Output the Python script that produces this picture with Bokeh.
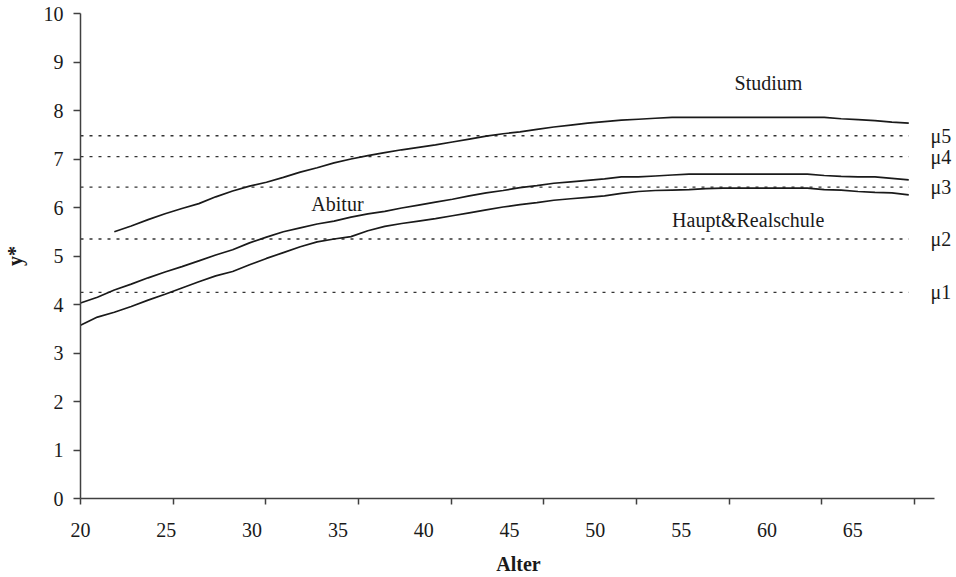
from bokeh.plotting import figure
from bokeh.models import Range1d, LinearAxis, FixedTicker
from bokeh.core.properties import value
from bokeh.embed import file_html
from bokeh.resources import INLINE

# ---------------- data ----------------
AGES = list(range(20, 70))
HAUPT = [3.57, 3.74, 3.84, 3.96, 4.09, 4.21, 4.34, 4.47, 4.59, 4.68,
         4.82, 4.95, 5.07, 5.19, 5.29, 5.35, 5.40, 5.52, 5.61, 5.67,
         5.72, 5.77, 5.83, 5.89, 5.95, 6.01, 6.06, 6.10, 6.15, 6.18,
         6.21, 6.24, 6.29, 6.33, 6.35, 6.36, 6.37, 6.39, 6.40, 6.40,
         6.40, 6.40, 6.40, 6.40, 6.37, 6.36, 6.33, 6.31, 6.30, 6.26]
ABITUR = [4.03, 4.15, 4.30, 4.42, 4.55, 4.67, 4.78, 4.90, 5.02, 5.13,
          5.27, 5.39, 5.50, 5.58, 5.66, 5.72, 5.80, 5.87, 5.92, 5.99,
          6.05, 6.11, 6.17, 6.24, 6.30, 6.35, 6.41, 6.45, 6.50, 6.53,
          6.56, 6.59, 6.63, 6.63, 6.65, 6.67, 6.69, 6.69, 6.69, 6.69,
          6.69, 6.69, 6.69, 6.69, 6.66, 6.64, 6.63, 6.63, 6.60, 6.57]
STUDIUM_AGES = list(range(22, 70))
STUDIUM = [5.50, 5.62, 5.75, 5.87, 5.98, 6.08, 6.22, 6.34,
           6.44, 6.52, 6.62, 6.73, 6.82, 6.92, 7.00, 7.07, 7.13, 7.19,
           7.24, 7.29, 7.35, 7.41, 7.47, 7.52, 7.56, 7.61, 7.66, 7.70,
           7.74, 7.77, 7.80, 7.82, 7.84, 7.86, 7.86, 7.86, 7.86, 7.86,
           7.86, 7.86, 7.86, 7.86, 7.86, 7.83, 7.81, 7.79, 7.76, 7.74]
MU_NAMES = ["\u03bc1", "\u03bc2", "\u03bc3", "\u03bc4", "\u03bc5"]
MU_VALUES = [4.25, 5.35, 6.42, 7.05, 7.48]
SERIES_NAMES = ["Studium", "Abitur", "Haupt&Realschule"]
X_TICK_LABELS = [20, 25, 30, 35, 40, 45, 50, 55, 60, 65]
Y_TICKS = list(range(0, 11))

# ---------------- layout constants ----------------
FONT = "Liberation Serif"
FS = "20px"
INK = "#1a1a1a"
AXIS_C = "#404040"
W, H = 956, 577
FL, FR, FT, FB = 75, 956, 13, 498          # frame edges on the canvas
AXIS_END = 934                              # x axis line ends here
FW = FR - FL
PX_YEAR = 17.0                              # pixels per year for the data
X_END = AGES[0] + FW / PX_YEAR
PX_LABEL = 17.26                            # pixel spacing of the label scale
LB_START = X_TICK_LABELS[0]
LB_END = LB_START + FW / PX_LABEL
MARK_STEP_PX = 93.2
MARKS = [LB_START + k * MARK_STEP_PX / PX_LABEL for k in range(10)]

p = figure(width=W, height=H, x_range=Range1d(AGES[0], X_END), y_range=Range1d(0, 10),
           x_axis_type=None, y_axis_type=None, output_backend="svg", toolbar_location=None,
           min_border_left=FL, min_border_right=W - FR, min_border_top=FT,
           min_border_bottom=H - FB)
p.outline_line_color = None
p.background_fill_color = "white"
p.extra_x_ranges = {"lb": Range1d(LB_START, LB_END)}

# y axis
yax = LinearAxis(ticker=FixedTicker(ticks=Y_TICKS), axis_label="y*")
yax.major_tick_out = 7
yax.major_tick_in = 0
yax.minor_tick_out = 0
yax.minor_tick_in = 0
yax.axis_line_color = AXIS_C
yax.axis_line_width = 1.5
yax.major_tick_line_color = AXIS_C
yax.major_tick_line_width = 1.5
yax.major_label_text_font = FONT
yax.major_label_text_font_size = FS
yax.major_label_text_color = INK
yax.major_label_standoff = 10
yax.axis_label_text_font = FONT
yax.axis_label_text_font_size = FS
yax.axis_label_text_font_style = "bold"
yax.axis_label_text_color = INK
yax.axis_label_standoff = 15
p.add_layout(yax, "left")

# x axis
xax = LinearAxis(x_range_name="lb", ticker=FixedTicker(ticks=X_TICK_LABELS, minor_ticks=MARKS),
                 axis_label="Alter")
xax.bounds = (LB_START, LB_START + (AXIS_END - FL) / PX_LABEL)
xax.major_tick_out = 0
xax.major_tick_in = 0
xax.minor_tick_out = 6
xax.minor_tick_in = 0
xax.minor_tick_line_color = AXIS_C
xax.minor_tick_line_width = 1.5
xax.axis_line_color = AXIS_C
xax.axis_line_width = 1.5
xax.major_label_text_font = FONT
xax.major_label_text_font_size = FS
xax.major_label_text_color = INK
xax.major_label_standoff = 18
xax.axis_label_text_font = FONT
xax.axis_label_text_font_size = FS
xax.axis_label_text_font_style = "bold"
xax.axis_label_text_color = INK
xax.axis_label_standoff = 13
p.add_layout(xax, "below")

# threshold lines
p.segment(x0=[AGES[0]] * len(MU_VALUES), x1=[AGES[-1]] * len(MU_VALUES),
          y0=MU_VALUES, y1=MU_VALUES, line_color="#333333", line_width=1.4,
          line_dash="3 6")

# curves
p.line(AGES, HAUPT, line_color=INK, line_width=1.7)
p.line(AGES, ABITUR, line_color=INK, line_width=1.7)
p.line(STUDIUM_AGES, STUDIUM, line_color=INK, line_width=1.7)

# series labels
p.text(x=[60.7, 35.2, 59.5], y=[8.56, 6.08, 5.75], text=SERIES_NAMES,
       text_font=value(FONT), text_font_size=FS, text_color=INK,
       text_align="center", text_baseline="middle")

# mu labels
p.text(x=[AGES[-1] + 1.29] * len(MU_VALUES), y=MU_VALUES, text=MU_NAMES,
       text_font=value(FONT), text_font_size=FS, text_color=INK,
       text_align="left", text_baseline="middle")

open("out.html", "w").write(file_html(p, INLINE))
